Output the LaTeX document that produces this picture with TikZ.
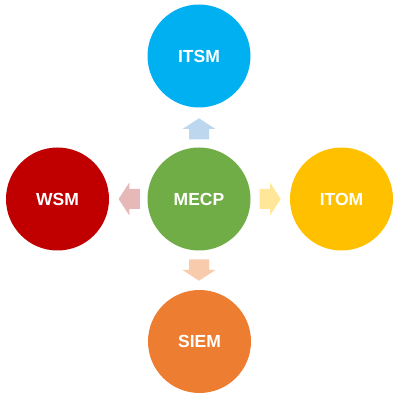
\documentclass[tikz,border=0pt]{standalone}
\usepackage{fontspec}
\setmainfont{Liberation Sans}
\definecolor{cblue}{HTML}{00B0F0}
\definecolor{cgreen}{HTML}{70AD47}
\definecolor{cred}{HTML}{C00000}
\definecolor{cyellow}{HTML}{FFC000}
\definecolor{corange}{HTML}{ED7D31}
\definecolor{ablue}{HTML}{BDD7EE}
\definecolor{ared}{HTML}{E6B9B8}
\definecolor{ayellow}{HTML}{FFE699}
\definecolor{aorange}{HTML}{F8CBAD}
\newcommand{\blockarrow}[4]{%
  \fill[#1, shift={(#2,#3)}, rotate=#4] (-10.5,-10)--(0,-10)--(0,-16.5)--(10.7,0)--(0,16.5)--(0,10)--(-10.5,10)--cycle;}
\begin{document}
\begin{tikzpicture}[x=1pt,y=1pt,
  hub/.style={circle, minimum size=103pt, inner sep=0pt, text=white,
    font=\fontsize{17.5}{20}\selectfont\bfseries}]
\useasboundingbox (0,0) rectangle (400,400);
\node[hub, fill=cgreen] (mecp) at (199,201) {MECP};
\node[hub, fill=cblue] (itsm) at (199,344) {ITSM};
\node[hub, fill=cred] (wsm) at (57.5,201) {WSM};
\node[hub, fill=cyellow] (itom) at (341.5,201) {ITOM};
\node[hub, fill=corange] (siem) at (199.5,58.5) {SIEM};
\blockarrow{ablue}{199}{271}{90}
\blockarrow{ared}{129.3}{201}{180}
\blockarrow{ayellow}{270}{201}{0}
\blockarrow{aorange}{199}{130}{-90}
\end{tikzpicture}
\end{document}
